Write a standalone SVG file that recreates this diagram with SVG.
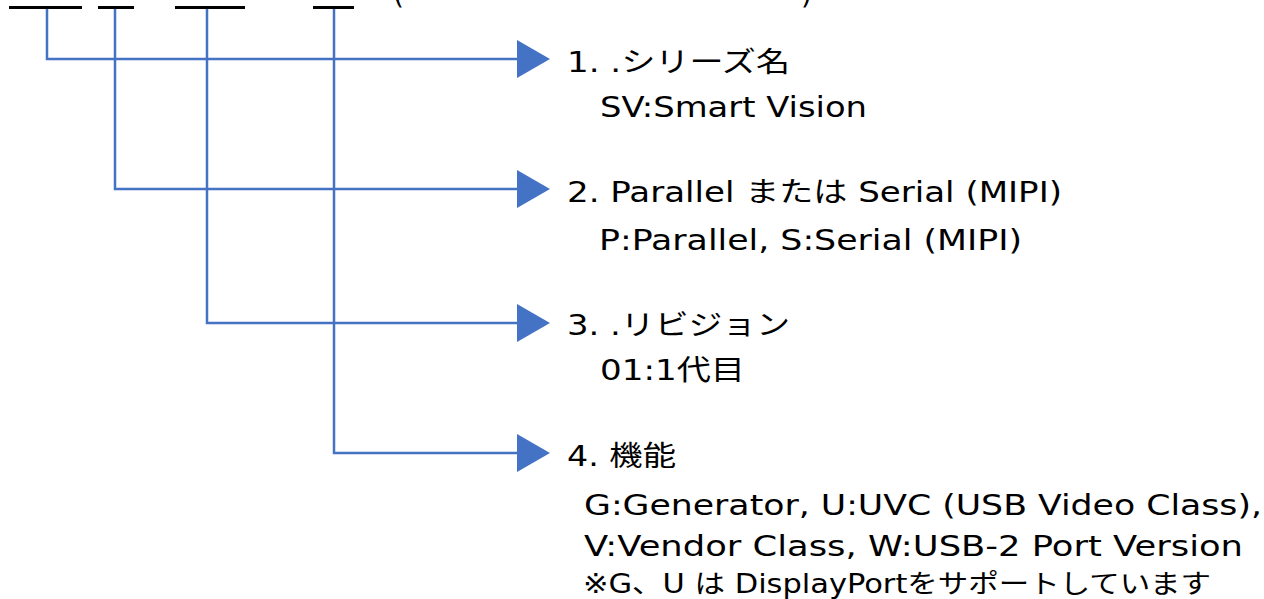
<svg xmlns="http://www.w3.org/2000/svg" width="1264" height="599" viewBox="0 0 1264 599">
<style>
  .bar { stroke: #000; stroke-width: 3; fill: none; }
  .conn { stroke: #4472C4; stroke-width: 2.5; fill: none; }
  .head { fill: #4472C4; }
  text { font-family: "DejaVu Sans", "Noto Sans CJK JP", sans-serif; font-size: 28px; fill: #000; }
</style>
<rect width="1264" height="599" fill="#fff"/>
<g id="header">
  <line class="bar" x1="9" y1="7.5" x2="82" y2="7.5"/>
  <line class="bar" x1="98" y1="7.5" x2="134" y2="7.5"/>
  <line class="bar" x1="175" y1="7.5" x2="245" y2="7.5"/>
  <line class="bar" x1="313" y1="7.5" x2="354" y2="7.5"/>
  <text x="393" y="4">(</text>
  <text x="801" y="4">)</text>
</g>
<g id="connectors">
  <polyline class="conn" points="47,9 47,59 518,59"/>
  <polyline class="conn" points="115,9 115,189 518,189"/>
  <polyline class="conn" points="207,9 207,323 518,323"/>
  <polyline class="conn" points="334,9 334,453 518,453"/>
  <polygon class="head" points="517,40 550,59 517,78"/>
  <polygon class="head" points="517,170 550,189 517,208"/>
  <polygon class="head" points="517,304 550,323 517,342"/>
  <polygon class="head" points="517,434 550,453 517,472"/>
</g>
<g id="node1">
  <text x="567" y="72" textLength="223" lengthAdjust="spacingAndGlyphs">1. .シリーズ名</text>
  <text x="600" y="117" textLength="267" lengthAdjust="spacingAndGlyphs">SV:Smart Vision</text>
</g>
<g id="node2">
  <text x="567" y="202" textLength="495" lengthAdjust="spacingAndGlyphs">2. Parallel または Serial (MIPI)</text>
  <text x="599" y="250" textLength="423" lengthAdjust="spacingAndGlyphs">P:Parallel, S:Serial (MIPI)</text>
</g>
<g id="node3">
  <text x="567" y="335" textLength="223" lengthAdjust="spacingAndGlyphs">3. .リビジョン</text>
  <text x="600" y="380" textLength="145" lengthAdjust="spacingAndGlyphs">01:1代目</text>
</g>
<g id="node4">
  <text x="567" y="466" textLength="109" lengthAdjust="spacingAndGlyphs">4. 機能</text>
  <text x="584" y="515" textLength="678" lengthAdjust="spacingAndGlyphs">G:Generator, U:UVC (USB Video Class),</text>
  <text x="584" y="556" textLength="659" lengthAdjust="spacingAndGlyphs">V:Vendor Class, W:USB-2 Port Version</text>
  <text x="583" y="593" textLength="628" lengthAdjust="spacingAndGlyphs" style="font-size:26px">※G、U は DisplayPortをサポートしています</text>
</g>
</svg>
